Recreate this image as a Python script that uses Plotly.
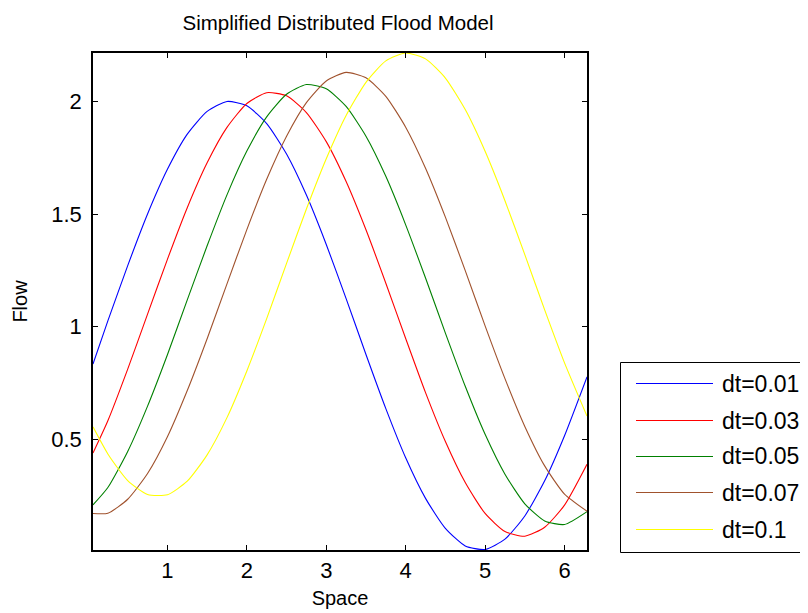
import plotly.graph_objects as go

# ---- data ----
space = [0.063, 0.25, 0.5, 0.75, 1.0, 1.25, 1.5, 1.75, 2.0, 2.25, 2.5, 2.75, 3.0,
         3.25, 3.5, 3.75, 4.0, 4.25, 4.5, 4.75, 5.0, 5.25, 5.5, 5.75, 6.0, 6.283]

flow_dt001 = [0.835, 1.026, 1.271, 1.500, 1.698, 1.854, 1.955, 1.999, 1.980, 1.901,
              1.766, 1.584, 1.365, 1.125, 0.877, 0.637, 0.419, 0.239, 0.106, 0.028,
              0.012, 0.058, 0.161, 0.317, 0.517, 0.778]
flow_dt003 = [0.44, 0.583, 0.812, 1.056, 1.299, 1.528, 1.727, 1.884, 1.990, 2.038,
              2.024, 1.950, 1.821, 1.644, 1.430, 1.193, 0.948, 0.708, 0.491, 0.309,
              0.172, 0.092, 0.071, 0.111, 0.209, 0.39]
flow_dt005 = [0.21, 0.287, 0.447, 0.648, 0.876, 1.119, 1.359, 1.585, 1.779, 1.931,
              2.031, 2.074, 2.055, 1.977, 1.845, 1.667, 1.452, 1.216, 0.972, 0.736,
              0.523, 0.346, 0.215, 0.139, 0.123, 0.18]
flow_dt007 = [0.172, 0.173, 0.235, 0.349, 0.512, 0.717, 0.947, 1.190, 1.431, 1.654,
              1.845, 1.994, 2.090, 2.128, 2.104, 2.022, 1.885, 1.703, 1.486, 1.249,
              1.004, 0.770, 0.558, 0.383, 0.258, 0.182]
flow_dt01 = [0.556, 0.436, 0.318, 0.256, 0.255, 0.315, 0.432, 0.597, 0.804, 1.036,
             1.281, 1.522, 1.745, 1.937, 2.084, 2.179, 2.214, 2.188, 2.103, 1.963,
             1.778, 1.559, 1.320, 1.075, 0.840, 0.604]

series_names = ["dt=0.01", "dt=0.03", "dt=0.05", "dt=0.07", "dt=0.1"]
series_values = [flow_dt001, flow_dt003, flow_dt005, flow_dt007, flow_dt01]
series_colors = ["#0000ff", "#ff0000", "#008000", "#a0522d", "#ffff00"]

x_ticks = [1, 2, 3, 4, 5, 6]
y_ticks = [0.5, 1, 1.5, 2]
y_tick_labels = ["0.5", "1", "1.5", "2"]

FONT = "Liberation Sans, Arial, sans-serif"
OFF = 8  # default page body margin
W, H = 808 - OFF, 613 - OFF
ML, MT = 93 - OFF, 53 - OFF
PW, PH = 494, 497
MR, MB = W - ML - PW, H - MT - PH

fig = go.Figure()
for name, vals, col in zip(series_names, series_values, series_colors):
    fig.add_trace(go.Scatter(x=space, y=vals, mode="lines", name=name,
                             line=dict(color=col, width=1.1, shape="spline", smoothing=0.6),
                             showlegend=False))

# ---- MATLAB-style legend box (paper coordinates, positions given in page px) ----
def px_x(p):
    return (p - OFF - ML) / PW

def px_y(p):
    return (MT + PH - (p - OFF)) / PH

shapes = [dict(type="rect", xref="paper", yref="paper",
               x0=px_x(620.5), x1=px_x(840), y0=px_y(552.5), y1=px_y(362.5),
               line=dict(color="black", width=1), fillcolor="white", layer="below")]
annotations = []
for i, (name, col) in enumerate(zip(series_names, series_colors)):
    yp = round(383 + i * 36.5) + 0.5
    shapes.append(dict(type="line", xref="paper", yref="paper",
                       x0=px_x(636), x1=px_x(713), y0=px_y(yp), y1=px_y(yp),
                       line=dict(color=col, width=1)))
    annotations.append(dict(xref="paper", yref="paper", x=px_x(720), y=px_y(yp),
                            xanchor="left", yanchor="middle", showarrow=False,
                            text=name, font=dict(family=FONT, size=23, color="black")))

fig.update_layout(
    width=W, height=H,
    margin=dict(l=ML, r=MR, t=MT, b=MB, pad=0),
    paper_bgcolor="white", plot_bgcolor="white",
    font=dict(family=FONT, color="black"),
    title=dict(text="Simplified Distributed Flood Model", x=(338 - OFF) / W, xanchor="center",
               y=1 - (23 - OFF) / H, yanchor="middle",
               font=dict(family=FONT, size=20.5, color="black")),
    shapes=shapes, annotations=annotations,
    xaxis=dict(range=[0.063, 6.283], tickvals=x_ticks, ticks="inside", ticklen=5,
               tickcolor="black", showline=True, linecolor="black", linewidth=1.5,
               mirror="ticks", showgrid=False, zeroline=False, automargin=False,
               tickfont=dict(family=FONT, size=22), ticklabelstandoff=0,
               title=dict(text="Space", font=dict(family=FONT, size=20), standoff=9)),
    yaxis=dict(range=[0.01, 2.214], tickvals=y_ticks, ticktext=y_tick_labels,
               ticks="inside", ticklen=5, tickcolor="black", showline=True,
               linecolor="black", linewidth=1.5, mirror="ticks", showgrid=False,
               zeroline=False, automargin=False,
               tickfont=dict(family=FONT, size=22), ticklabelstandoff=5,
               title=dict(text="Flow", font=dict(family=FONT, size=20), standoff=18)),
)

fig.write_html("out.html")
